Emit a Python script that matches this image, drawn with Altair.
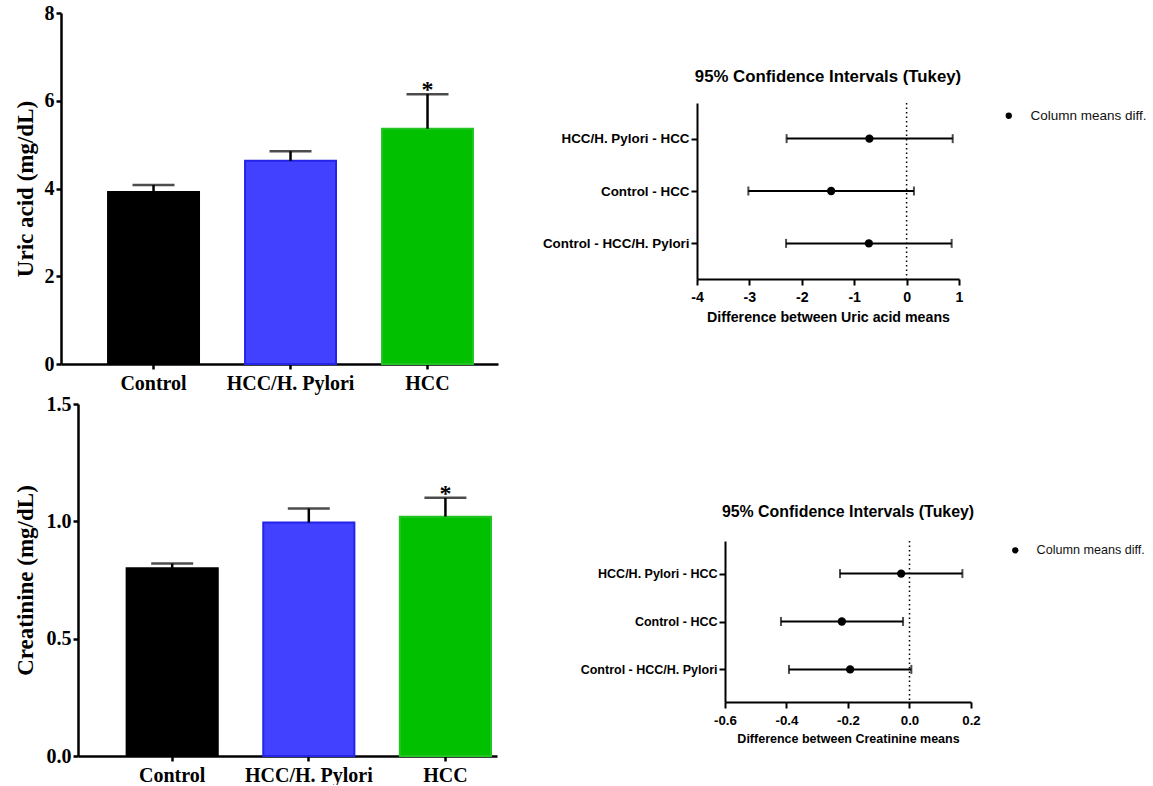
import altair as alt
import pandas as pd

# ---------------- data ----------------
groups = ["Control", "HCC/H. Pylori", "HCC"]
uric_mean = [3.92, 4.63, 5.36]
uric_sem = [0.16, 0.22, 0.79]
creat_mean = [0.80, 0.995, 1.02]
creat_sem = [0.02, 0.06, 0.08]
significance = ["", "", "*"]

comparisons = ["HCC/H. Pylori - HCC", "Control - HCC", "Control - HCC/H. Pylori"]
uric_diff = [-0.71, -1.44, -0.72]
uric_low = [-2.29, -3.02, -2.30]
uric_high = [0.88, 0.14, 0.86]
creat_diff = [-0.027, -0.22, -0.193]
creat_low = [-0.226, -0.418, -0.392]
creat_high = [0.172, -0.021, 0.006]
zero_line = [0.0]

legend_label = "Column means diff."
ci_title = "95% Confidence Intervals (Tukey)"

uric_ticks = [0, 2, 4, 6, 8]
creat_ticks = [0, 0.5, 1.0, 1.5]
uric_ci_ticks = [-4, -3, -2, -1, 0, 1]
creat_ci_ticks = [-0.6, -0.4, -0.2, 0.0, 0.2]

# ---------------- styles ----------------
SERIF = "Liberation Serif"
SANS = "Liberation Sans"
bar_fills = ["#000000", "#4141ff", "#00c000"]
bar_strokes = ["#000000", "#2424e8", "#22c422"]
MINUS_FIX = "replace(datum.label, '\u2212', '-')"


def bar_panel(means, sems, ytitle, ymax, yticks, yfmt, width, height, p_in, p_out, align, tpad):
    df = pd.DataFrame({
        "group": groups,
        "mean": means,
        "upper": [m + s for m, s in zip(means, sems)],
        "sig": significance,
    })
    x = alt.X(
        "group:N", sort=groups,
        scale=alt.Scale(paddingInner=p_in, paddingOuter=p_out, align=align),
        axis=alt.Axis(title=None, labelAngle=0, labelFont=SERIF, labelFontWeight="bold",
                      labelFontSize=20, labelColor="black", labelPadding=4,
                      tickSize=5, tickWidth=2.5, tickColor="black",
                      domainColor="black", domainWidth=2.5),
    )
    yaxis = alt.Axis(title=ytitle, values=yticks, format=yfmt, grid=False,
                     titleFont=SERIF, titleFontWeight="bold", titleFontSize=23,
                     titleColor="black", titlePadding=tpad,
                     labelFont=SERIF, labelFontWeight="bold", labelFontSize=20,
                     labelColor="black", labelPadding=2,
                     tickSize=5, tickWidth=2.5, tickColor="black",
                     domainColor="black", domainWidth=2.5)
    base = alt.Chart(df)
    bars = base.mark_bar(strokeWidth=2).encode(
        x=x,
        y=alt.Y("mean:Q", scale=alt.Scale(domain=[0, ymax], nice=False), axis=yaxis),
        color=alt.Color("group:N", scale=alt.Scale(domain=groups, range=bar_fills), legend=None),
        stroke=alt.Stroke("group:N", scale=alt.Scale(domain=groups, range=bar_strokes), legend=None),
    )
    stems = base.mark_rule(color="black", strokeWidth=2.5).encode(
        x=x, y="mean:Q", y2="upper:Q")
    caps = base.mark_tick(color="black", thickness=2.5, size=42).encode(
        x=x, y="upper:Q")
    stars = base.mark_text(font=SERIF, fontWeight="bold", fontSize=24,
                           baseline="alphabetic", dy=3, color="black").encode(
        x=x, y="upper:Q", text="sig:N")
    return alt.layer(bars, stems, caps, stars).properties(width=width, height=height)


def ci_panel(diff, low, high, xdomain, xticks, xfmt, xtitle, width, height,
             fs_label, fs_title, fs_xtitle, leg_x, leg_y, leg_fs, title_offset):
    df = pd.DataFrame({
        "comparison": comparisons,
        "diff": diff,
        "low": low,
        "high": high,
        "series": [legend_label] * len(comparisons),
    })
    y = alt.Y(
        "comparison:N", sort=comparisons,
        scale=alt.Scale(type="point", padding=0.68),
        axis=alt.Axis(title=None, labelFont=SANS, labelFontWeight="bold",
                      labelFontSize=fs_label, labelColor="black", labelPadding=2,
                      tickSize=6, tickWidth=2, tickColor="black",
                      domainColor="black", domainWidth=2, grid=False),
    )
    xscale = alt.Scale(domain=xdomain, nice=False, zero=False)
    xaxis = alt.Axis(title=xtitle, values=xticks, format=xfmt, labelExpr=MINUS_FIX,
                     labelFlush=False, grid=False,
                     titleFont=SANS, titleFontWeight="bold", titleFontSize=fs_xtitle,
                     titleColor="black", titlePadding=6,
                     labelFont=SANS, labelFontWeight="bold", labelFontSize=fs_label + 0.8,
                     labelColor="black", labelPadding=5,
                     tickSize=6, tickWidth=2, tickColor="black",
                     domainColor="black", domainWidth=2)
    base = alt.Chart(df)
    ref = alt.Chart(pd.DataFrame({"ref": zero_line})).mark_rule(
        color="black", strokeWidth=1.5, strokeDash=[1.5, 3]).encode(
        x=alt.X("ref:Q", scale=xscale, axis=xaxis))
    bars = base.mark_rule(color="black", strokeWidth=2).encode(
        x=alt.X("low:Q", scale=xscale, axis=xaxis), x2="high:Q", y=y)
    cap_low = base.mark_tick(color="black", thickness=2, size=9).encode(
        x=alt.X("low:Q", scale=xscale, axis=xaxis), y=y)
    cap_high = base.mark_tick(color="black", thickness=2, size=9).encode(
        x=alt.X("high:Q", scale=xscale, axis=xaxis), y=y)
    pts = base.mark_circle(size=70, opacity=1).encode(
        x=alt.X("diff:Q", scale=xscale, axis=xaxis), y=y,
        fill=alt.Fill("series:N", scale=alt.Scale(domain=[legend_label], range=["black"]),
                      legend=alt.Legend(title=None, orient="none", legendX=leg_x, legendY=leg_y,
                                        labelFont=SANS, labelFontSize=leg_fs, labelColor="#111111",
                                        symbolType="circle", symbolSize=40, symbolStrokeWidth=0,
                                        labelOffset=15, padding=0)),
    )
    return alt.layer(ref, bars, cap_low, cap_high, pts).properties(
        width=width, height=height,
        title=alt.Title(ci_title, font=SANS, fontWeight="bold", fontSize=fs_title,
                        color="black", anchor="middle", offset=title_offset),
    )


def spacer(w, h):
    return alt.Chart(pd.DataFrame({"s": [0]})).mark_point(opacity=0).encode(
        x=alt.X("s:Q", axis=None), y=alt.Y("s:Q", axis=None)).properties(width=w, height=h)


def indep(c):
    return c.resolve_scale(color="independent", fill="independent", stroke="independent").resolve_legend(
        color="independent", fill="independent", stroke="independent")


top_left = bar_panel(uric_mean, uric_sem, "Uric acid (mg/dL)", 8, uric_ticks, "d",
                     437, 351, 0.336, 0.263, 0.653, 7)
bottom_left = bar_panel(creat_mean, creat_sem, "Creatinine (mg/dL)", 1.5, creat_ticks, ".1f",
                        419, 352, 0.333, 0.20, 0.89, 9)
top_right = ci_panel(uric_diff, uric_low, uric_high, [-4, 1], uric_ci_ticks, "d",
                     "Difference between Uric acid means", 262, 176,
                     13.4, 16.8, 14.2, 305, 6, 13.5, 16)
bottom_right = ci_panel(creat_diff, creat_low, creat_high, [-0.6, 0.2], creat_ci_ticks, ".1f",
                        "Difference between Creatinine means", 246, 161,
                        12.5, 15.9, 12.5, 284, 3, 12.6, 20)

left1 = indep(alt.hconcat(spacer(1, 1), top_left, spacing=0))
left2 = indep(alt.hconcat(spacer(1, 1), bottom_left, spacing=0))
right1 = indep(alt.vconcat(spacer(1, 56), top_right, spacing=0))
right2 = indep(alt.vconcat(spacer(1, 100), bottom_right, spacing=0))

row1 = indep(alt.hconcat(left1, right1, spacing=44))
row2 = indep(alt.hconcat(left2, right2, spacing=83))

chart = indep(alt.vconcat(row1, row2, spacing=1)).properties(
    padding={"left": 7, "top": 3, "right": 0, "bottom": 0},
    background="white",
).configure_view(stroke=None)

chart.save("out.html", embed_options={"renderer": "svg", "actions": False})
